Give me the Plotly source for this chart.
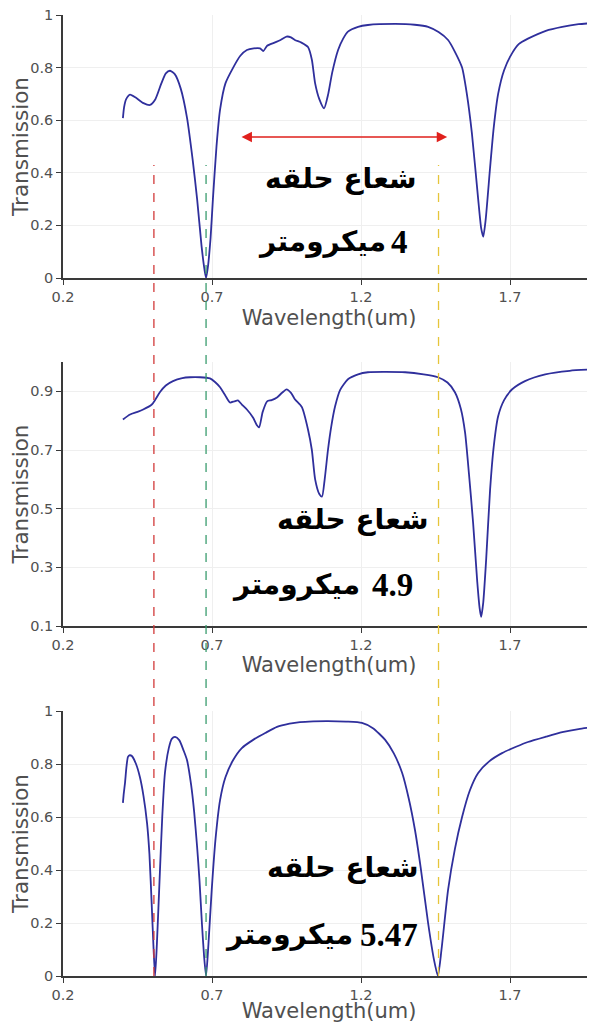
import plotly.graph_objects as go

# ---------------- data ----------------
x_top = [0.401, 0.405, 0.412, 0.425, 0.445, 0.47, 0.492, 0.51, 0.53, 0.545, 0.559, 0.575, 0.595, 0.616,
         0.635, 0.65, 0.665, 0.675, 0.68, 0.686, 0.695, 0.703, 0.715, 0.727, 0.745, 0.771, 0.795, 0.817,
         0.84, 0.861, 0.872, 0.885, 0.91, 0.93, 0.95, 0.965, 0.978, 1.0, 1.022, 1.035, 1.046, 1.06, 1.076,
         1.09, 1.103, 1.123, 1.14, 1.156, 1.19, 1.223, 1.314, 1.38, 1.425, 1.46, 1.492, 1.515, 1.539, 1.555,
         1.572, 1.593, 1.603, 1.61, 1.618, 1.633, 1.645, 1.66, 1.68, 1.707, 1.73, 1.76, 1.82, 1.875, 1.93, 1.985]
y_top = [0.608, 0.65, 0.68, 0.697, 0.685, 0.665, 0.658, 0.68, 0.74, 0.778, 0.788, 0.775, 0.72, 0.61,
         0.45, 0.30, 0.12, 0.03, 0.0, 0.04, 0.15, 0.30, 0.50, 0.64, 0.74, 0.80, 0.845, 0.867,
         0.873, 0.873, 0.863, 0.883, 0.895, 0.905, 0.918, 0.915, 0.905, 0.895, 0.878, 0.83, 0.74, 0.68, 0.645,
         0.70, 0.78, 0.867, 0.91, 0.937, 0.955, 0.962, 0.966, 0.963, 0.955, 0.935, 0.905, 0.86, 0.80, 0.70,
         0.55, 0.30, 0.19, 0.157, 0.22, 0.42, 0.57, 0.70, 0.79, 0.855, 0.89, 0.91, 0.94, 0.955, 0.965, 0.97]

x_mid = [0.401, 0.425, 0.45, 0.469, 0.498, 0.51, 0.525, 0.545, 0.569, 0.6, 0.626, 0.66, 0.693, 0.71,
         0.727, 0.745, 0.76, 0.775, 0.787, 0.8, 0.817, 0.838, 0.85, 0.858, 0.87, 0.885, 0.9, 0.918, 0.935,
         0.95, 0.965, 0.978, 0.995, 1.002, 1.022, 1.035, 1.046, 1.06, 1.069, 1.078, 1.089, 1.1, 1.113, 1.13,
         1.156, 1.19, 1.223, 1.348, 1.41, 1.458, 1.49, 1.515, 1.535, 1.549, 1.562, 1.576, 1.59, 1.598, 1.603,
         1.61, 1.62, 1.633, 1.645, 1.66, 1.68, 1.707, 1.75, 1.818, 1.9, 1.985]
y_mid = [0.804, 0.821, 0.83, 0.838, 0.855, 0.872, 0.897, 0.92, 0.935, 0.945, 0.948, 0.948, 0.944, 0.932,
         0.914, 0.885, 0.862, 0.866, 0.869, 0.855, 0.838, 0.81, 0.785, 0.777, 0.83, 0.866, 0.87, 0.879, 0.895,
         0.907, 0.895, 0.873, 0.855, 0.845, 0.77, 0.70, 0.60, 0.55, 0.541, 0.60, 0.70, 0.78, 0.849, 0.905,
         0.941, 0.958, 0.965, 0.965, 0.958, 0.948, 0.93, 0.897, 0.84, 0.76, 0.62, 0.452, 0.25, 0.16, 0.131,
         0.18, 0.33, 0.565, 0.71, 0.815, 0.87, 0.907, 0.935, 0.958, 0.97, 0.975]

x_bot = [0.401, 0.404, 0.408, 0.413, 0.418, 0.424, 0.431, 0.445, 0.458, 0.47, 0.482, 0.49, 0.498, 0.504,
         0.509, 0.515, 0.525, 0.533, 0.542, 0.555, 0.565, 0.576, 0.59, 0.605, 0.616, 0.63, 0.64, 0.65, 0.658,
         0.666, 0.673, 0.68, 0.688, 0.699, 0.712, 0.727, 0.745, 0.771, 0.8, 0.838, 0.88, 0.918, 0.96, 0.995,
         1.04, 1.089, 1.15, 1.203, 1.24, 1.281, 1.31, 1.338, 1.36, 1.381, 1.4, 1.425, 1.445, 1.458, 1.47,
         1.492, 1.515, 1.539, 1.565, 1.593, 1.63, 1.673, 1.72, 1.76, 1.82, 1.875, 1.93, 1.985]
y_bot = [0.653, 0.69, 0.728, 0.79, 0.827, 0.833, 0.83, 0.80, 0.751, 0.68, 0.577, 0.46, 0.26, 0.10,
         0.0, 0.12, 0.389, 0.60, 0.766, 0.86, 0.895, 0.902, 0.89, 0.85, 0.815, 0.72, 0.62, 0.487, 0.36,
         0.2, 0.08, 0.0, 0.12, 0.325, 0.52, 0.664, 0.75, 0.815, 0.86, 0.891, 0.918, 0.94, 0.952, 0.958,
         0.961, 0.962, 0.96, 0.955, 0.935, 0.891, 0.84, 0.766, 0.67, 0.551, 0.41, 0.2, 0.06, 0.0, 0.1,
         0.325, 0.48, 0.6, 0.70, 0.766, 0.81, 0.841, 0.865, 0.883, 0.903, 0.92, 0.932, 0.94]

x_ticks = [0.2, 0.7, 1.2, 1.7]
y_ticks_top = [0, 0.2, 0.4, 0.6, 0.8, 1]
y_ticks_mid = [0.1, 0.3, 0.5, 0.7, 0.9]
y_ticks_bot = [0, 0.2, 0.4, 0.6, 0.8, 1]

marker_lines = [0.505, 0.68, 1.46]          # red, green, yellow dashed guides
marker_colors = ["#d23a3a", "#3a9c6e", "#e6c53a"]
arrow_span = [0.794, 1.489]
arrow_y = 0.536

radius_title = "شعاع حلقه"
radius_values = ["4", "4.9", "5.47"]
unit_word = "میکرومتر"

# ---------------- figure ----------------
OFF = 8                      # page body margin of the browser
W, H = 595 - OFF, 1023 - OFF
line_color = "#2f2f9c"
font_fam = "DejaVu Sans"
txt_col = "#505050"

fig = go.Figure()
for xs, ys, xa, ya in [(x_top, y_top, "x", "y"), (x_mid, y_mid, "x2", "y2"), (x_bot, y_bot, "x3", "y3")]:
    fig.add_trace(go.Scatter(x=xs, y=ys, xaxis=xa, yaxis=ya, mode="lines",
                             line=dict(color=line_color, width=1.8, shape="spline", smoothing=0.6),
                             showlegend=False, hoverinfo="skip"))

def px2py(p):
    return 1 - (p - OFF) / H

xdom = [(63 - OFF) / W, 1.0]
ydoms = [[px2py(278), px2py(15)], [px2py(626), px2py(362)], [px2py(976), px2py(711)]]
yranges = [[0, 1], [0.1, 1.0], [0, 1]]
yticks = [y_ticks_top, y_ticks_mid, y_ticks_bot]
standoffs = [6, 0, 0]

axis_common = dict(showline=True, linecolor="#3a3a3a", linewidth=1.5, ticks="outside", ticklen=5,
                   tickcolor="#3a3a3a", showgrid=True, gridcolor="#efefef", gridwidth=1,
                   zeroline=False, tickfont=dict(family=font_fam, size=14.5, color=txt_col),
                   automargin=False, ticklabeloverflow="allow")

layout = dict(width=W, height=H, margin=dict(l=0, r=0, t=0, b=0),
              paper_bgcolor="white", plot_bgcolor="white", showlegend=False)
for i in range(3):
    sfx = "" if i == 0 else str(i + 1)
    layout["xaxis" + sfx] = dict(axis_common, domain=xdom, range=[0.2, 1.985], tickvals=x_ticks,
                                 anchor="y" + sfx,
                                 title=dict(text="Wavelength(um)", standoff=standoffs[i],
                                            font=dict(family=font_fam, size=21, color=txt_col)))
    layout["yaxis" + sfx] = dict(axis_common, domain=ydoms[i], range=yranges[i], tickvals=yticks[i],
                                 anchor="x" + sfx,
                                 title=dict(text="Transmission", standoff=2,
                                            font=dict(family=font_fam, size=21.5, color=txt_col)))
fig.update_layout(**layout)

# dashed guide lines spanning all panels
for xv, col in zip(marker_lines, marker_colors):
    fig.add_shape(type="line", xref="x", yref="paper", x0=xv, x1=xv,
                  y0=px2py(976), y1=px2py(165), line=dict(color=col, width=1.3, dash="dash"))

# double-headed arrow in the top panel
fig.add_annotation(x=arrow_span[1], y=arrow_y, ax=arrow_span[0], ay=arrow_y, xref="x", yref="y",
                   axref="x", ayref="y", text="", showarrow=True, arrowhead=2, arrowside="end+start",
                   arrowsize=1.3, arrowwidth=1.6, arrowcolor="#e0201c")

# Persian labels: (x_right title, y title, x_right number, x_right word, y line2, axes suffix)
label_pos = [
    (1.391, 0.38, 1.364, 1.291, 0.137, ""),
    (1.432, 0.462, 1.381, 1.203, 0.240, "2"),
    (1.398, 0.408, 1.398, 1.180, 0.155, "3"),
]
afont = dict(family="DejaVu Sans", size=28, color="black", weight="bold")
nfont = dict(family="Liberation Serif", size=33, color="black", weight="bold")
for (xt, yt, xn, xw, y2, sfx), val in zip(label_pos, radius_values):
    fig.add_annotation(x=xt, y=yt, xref="x" + sfx, yref="y" + sfx, xanchor="right", yanchor="middle",
                       text=radius_title, showarrow=False, font=afont)
    fig.add_annotation(x=xw, y=y2, xref="x" + sfx, yref="y" + sfx, xanchor="right", yanchor="middle",
                       text=unit_word, showarrow=False, font=afont)
    fig.add_annotation(x=xn, y=y2, xref="x" + sfx, yref="y" + sfx, xanchor="right", yanchor="middle",
                       text=val, showarrow=False, font=nfont)

fig.write_html("out.html")
